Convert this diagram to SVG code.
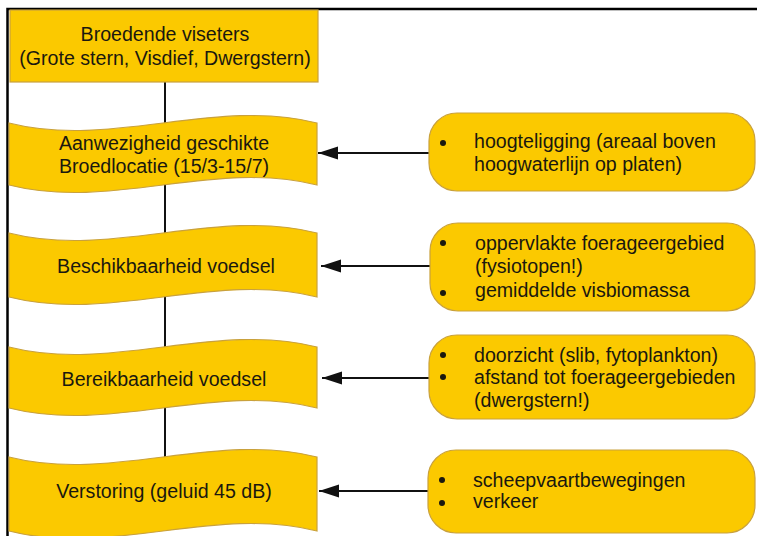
<svg xmlns="http://www.w3.org/2000/svg" width="757" height="536" viewBox="0 0 757 536">
  <style>
    .shape { fill: #fbc900; stroke: #c9a13c; stroke-width: 1.2; }
    .label { font-family: "Liberation Sans", Arial, sans-serif; font-size: 19.6px; fill: #1a180f; }
    .mid { text-anchor: middle; }
    .link { stroke: #111; stroke-width: 2; fill: none; }
    .bullet { fill: #1a180f; }
  </style>
  <defs>
    <marker id="head" markerWidth="20" markerHeight="14" refX="20" refY="7" orient="auto" markerUnits="userSpaceOnUse">
      <path d="M0,0.5 L20,7 L0,13.5 Z" fill="#111"/>
    </marker>
  </defs>

  <rect width="757" height="536" fill="#ffffff"/>
  <!-- frame -->
  <path d="M7.5,536 L7.5,9 L757,9" fill="none" stroke="#000" stroke-width="2.5"/>

  <!-- connectors -->
  <g id="connectors">
    <line class="link" x1="165" y1="82" x2="165" y2="460"/>
    <line class="link" x1="429" y1="153" x2="318" y2="153" marker-end="url(#head)"/>
    <line class="link" x1="430" y1="266" x2="321" y2="266" marker-end="url(#head)"/>
    <line class="link" x1="429" y1="378" x2="322" y2="378" marker-end="url(#head)"/>
    <line class="link" x1="428" y1="491" x2="319" y2="491" marker-end="url(#head)"/>
  </g>

  <g id="broedende-viseters">
    <rect class="shape" x="10" y="10" width="308" height="72"/>
    <text class="label mid" x="165" y="41">Broedende viseters</text>
    <text class="label mid" x="165" y="65">(Grote stern, Visdief, Dwergstern)</text>
  </g>

  <g id="broedlocatie">
    <path class="shape" d="M9,123 C111.7,149 214.3,97 317,123 L317,185 C214.3,159 111.7,211 9,185 Z"/>
    <text class="label mid" x="164" y="150">Aanwezigheid geschikte</text>
    <text class="label mid" x="164" y="173">Broedlocatie (15/3-15/7)</text>
  </g>

  <g id="beschikbaarheid">
    <path class="shape" d="M9,233 C111.7,259 214.3,207 317,233 L317,297 C214.3,271 111.7,323 9,297 Z"/>
    <text class="label mid" x="166" y="273">Beschikbaarheid voedsel</text>
  </g>

  <g id="bereikbaarheid">
    <path class="shape" d="M9,347 C111.7,373 214.3,321 317,347 L317,408 C214.3,382 111.7,434 9,408 Z"/>
    <text class="label mid" x="164" y="386">Bereikbaarheid voedsel</text>
  </g>

  <g id="verstoring">
    <path class="shape" d="M9,457 C111.7,483 214.3,431 317,457 L317,531 C214.3,505 111.7,557 9,531 Z"/>
    <text class="label mid" x="164" y="498">Verstoring (geluid 45 dB)</text>
  </g>

  <g id="hoogteligging">
    <rect class="shape" x="429" y="113" width="326" height="78" rx="28" ry="28"/>
    <circle class="bullet" cx="443" cy="143" r="3"/>
    <text class="label" x="474" y="148">hoogteligging (areaal boven</text>
    <text class="label" x="474" y="171">hoogwaterlijn op platen)</text>
  </g>

  <g id="foerageergebied">
    <rect class="shape" x="430" y="223" width="325" height="88" rx="28" ry="28"/>
    <circle class="bullet" cx="443" cy="243" r="3"/>
    <circle class="bullet" cx="443" cy="293" r="3"/>
    <text class="label" x="475" y="250">oppervlakte foerageergebied</text>
    <text class="label" x="475" y="273">(fysiotopen!)</text>
    <text class="label" x="475" y="297">gemiddelde visbiomassa</text>
  </g>

  <g id="doorzicht">
    <rect class="shape" x="429" y="335" width="326" height="84" rx="28" ry="28"/>
    <circle class="bullet" cx="443" cy="355" r="3"/>
    <circle class="bullet" cx="443" cy="377" r="3"/>
    <text class="label" x="474" y="362">doorzicht (slib, fytoplankton)</text>
    <text class="label" x="474" y="384">afstand tot foerageergebieden</text>
    <text class="label" x="474" y="407">(dwergstern!)</text>
  </g>

  <g id="scheepvaart">
    <rect class="shape" x="428" y="450" width="327" height="83" rx="28" ry="28"/>
    <circle class="bullet" cx="442" cy="480" r="3"/>
    <circle class="bullet" cx="442" cy="503" r="3"/>
    <text class="label" x="473" y="487">scheepvaartbewegingen</text>
    <text class="label" x="473" y="508">verkeer</text>
  </g>
</svg>
